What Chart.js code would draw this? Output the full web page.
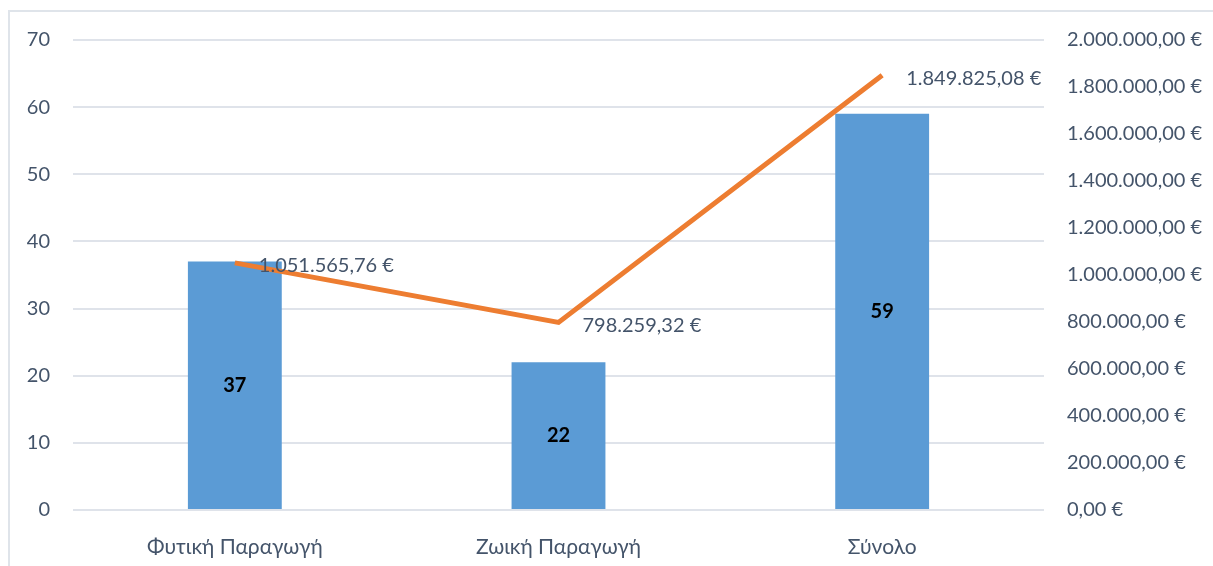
<!DOCTYPE html>
<html>
<head>
<meta charset="utf-8">
<script src="https://cdn.jsdelivr.net/npm/chart.js@4/dist/chart.umd.min.js"></script>
<style>
  html, body { margin: 0; padding: 0; background: #fff; }
  #wrap { position: relative; width: 1213px; height: 566px; }
  #frame { position: absolute; left: 8px; top: 10px; right: 0; bottom: 0; border-left: 2px solid #dfe4ea; border-top: 2px solid #dfe4ea; }
  canvas { position: absolute; left: 0; top: 0; }
</style>
</head>
<body>
<div id="wrap">
  <div id="frame"></div>
  <canvas id="myChart1" width="1213" height="566"></canvas>
</div>
<script>
let categories = ['Φυτική Παραγωγή', 'Ζωική Παραγωγή', 'Σύνολο'];
let counts = [37, 22, 59];
let amounts = [1051565.76, 798259.32, 1849825.08];
let leftTicks = [0, 70, 10];
let rightTicks = [0, 2000000, 200000];

let textColor = '#44546A';
let fontFam = 'Lato, "Open Sans", sans-serif';

function euro(v) {
    let parts = v.toFixed(2).split('.');
    let int = parts[0].replace(/\B(?=(\d{3})+(?!\d))/g, '.');
    return int + ',' + parts[1] + ' €';
}

// draws the value labels (no datalabels plugin here)
const valueLabels = {
    id: 'valueLabels',
    afterDatasetsDraw(chart) {
        let c = chart.ctx;
        c.save();
        let barMeta = chart.getDatasetMeta(1);
        c.font = 'bold 20px ' + fontFam;
        c.fillStyle = '#000';
        c.textAlign = 'center';
        c.textBaseline = 'middle';
        barMeta.data.forEach((bar, i) => {
            c.fillText(counts[i], bar.x, (bar.y + bar.base) / 2);
        });
        let lineMeta = chart.getDatasetMeta(0);
        c.font = '20px ' + fontFam;
        c.fillStyle = textColor;
        c.textAlign = 'left';
        lineMeta.data.forEach((pt, i) => {
            c.fillText(euro(amounts[i]), pt.x + 24, pt.y + 3);
        });
        c.restore();
    }
};

let ctx = document.getElementById('myChart1').getContext('2d');
let myChart1 = new Chart(ctx, {
    type: 'bar',
    data: {
        labels: categories,
        datasets: [{
            type: 'line',
            data: amounts,
            yAxisID: 'y2',
            borderColor: '#ED7D31',
            borderWidth: 5,
            pointRadius: 0,
            tension: 0,
            order: 0
        }, {
            type: 'bar',
            data: counts,
            yAxisID: 'y',
            backgroundColor: '#5B9BD5',
            barPercentage: 0.58,
            categoryPercentage: 0.5,
            order: 1
        }]
    },
    options: {
        responsive: false,
        animation: false,
        layout: { padding: { top: 40, left: 0, right: 0, bottom: 0 } },
        plugins: {
            legend: { display: false },
            tooltip: { enabled: false }
        },
        scales: {
            x: {
                grid: { display: false },
                border: { display: false },
                ticks: { color: textColor, font: { family: fontFam, size: 21 }, padding: 17 },
                afterFit: (s) => { s.height = 56; }
            },
            y: {
                position: 'left',
                min: leftTicks[0],
                max: leftTicks[1],
                ticks: { stepSize: leftTicks[2], color: textColor, font: { family: fontFam, size: 20 }, padding: 23 },
                grid: { color: '#dfe3ea', lineWidth: 2, drawTicks: false },
                border: { display: false },
                afterFit: (s) => { s.width = 73; }
            },
            y2: {
                position: 'right',
                min: rightTicks[0],
                max: rightTicks[1],
                ticks: {
                    stepSize: rightTicks[2],
                    color: textColor,
                    font: { family: fontFam, size: 20 },
                    padding: 23,
                    callback: (v) => euro(v)
                },
                grid: { display: false, drawTicks: false },
                border: { display: false },
                afterFit: (s) => { s.width = 169; }
            }
        }
    },
    plugins: [valueLabels]
});
</script>
</body>
</html>
